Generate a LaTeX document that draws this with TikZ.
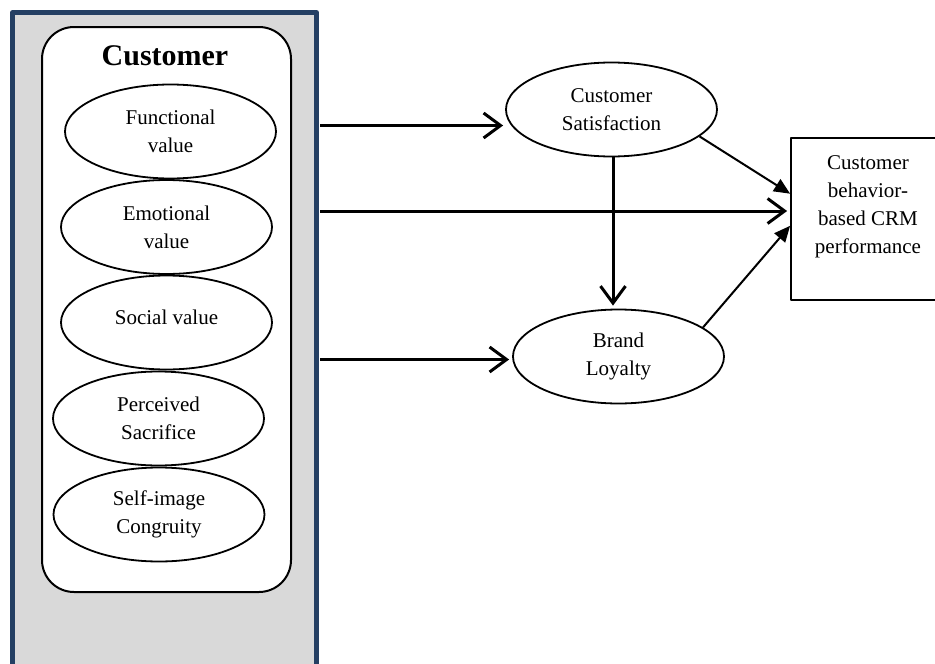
\documentclass[tikz,border=0pt]{standalone}
\usepackage{fontspec}
\setmainfont{Liberation Serif}
\usetikzlibrary{arrows.meta,shapes.geometric}
\definecolor{panelgray}{HTML}{D9D9D9}
\definecolor{panelblue}{HTML}{243F63}

\begin{document}
\begin{tikzpicture}[line join=round,x=1pt,y=-1pt,
  oval/.style={draw,ellipse,fill=white,line width=1.8pt,minimum width=211pt,minimum height=94pt,inner sep=0pt,align=center,font=\fontsize{21}{28}\selectfont},
  bar/.style={line width=3pt,-{Straight Barb[length=17pt,width=25pt]}},
  slant/.style={line width=2pt,-{Triangle[length=16pt,width=14pt]}}]

\useasboundingbox (0,0) rectangle (935,664);

\draw [fill=panelgray,draw=panelblue,line width=5pt] (12.5,12.5) rectangle (316.5,690);
\draw [fill=white,line width=2pt,rounded corners=32pt] (42,27) rectangle (291,592);
\node [font=\bfseries\fontsize{30}{36}\selectfont] (head) at (165,56) {Customer};

\node [oval] (func) at (170.5,131.5) {Functional\\value};
\node [oval] (emo) at (166.5,227) {Emotional\\value};
\node [oval] (soc) at (166.5,322.5) {\raisebox{10pt}{Social value}};
\node [oval] (sacr) at (158.5,418.5) {Perceived\\Sacrifice};
\node [oval] (self) at (159,514.5) {Self-image\\Congruity};

\node [oval] (sat) at (611.5,109.5) {Customer\\Satisfaction};
\node [oval] (loy) at (618.5,356.5) {Brand\\Loyalty};
\node [draw,line width=1.8pt,minimum width=154pt,minimum height=162pt,align=center,font=\fontsize{21}{28}\selectfont] (crm) at (868,219) {Customer\\behavior-\\based CRM\\performance\\\mbox{}};

\coordinate (fromsat) at (320,125.5);
\coordinate (fromcrm) at (320,211);
\coordinate (fromloy) at (320,359.5);

\draw [bar,shorten >=2pt] (fromsat) -- (sat.west |- fromsat);
\draw [bar,shorten >=3pt] (fromcrm) -- (crm.west |- fromcrm);
\draw [bar,shorten >=3pt] (fromloy) -- (loy.west |- fromloy);
\draw [bar,shorten >=3pt] ([xshift=1.5pt]sat.south) -- ([xshift=1.5pt]sat.south |- loy.north);

\draw [slant] (sat.-17) -- (crm.162);
\draw [slant] (loy.19) -- (crm.185);

\end{tikzpicture}
\end{document}
